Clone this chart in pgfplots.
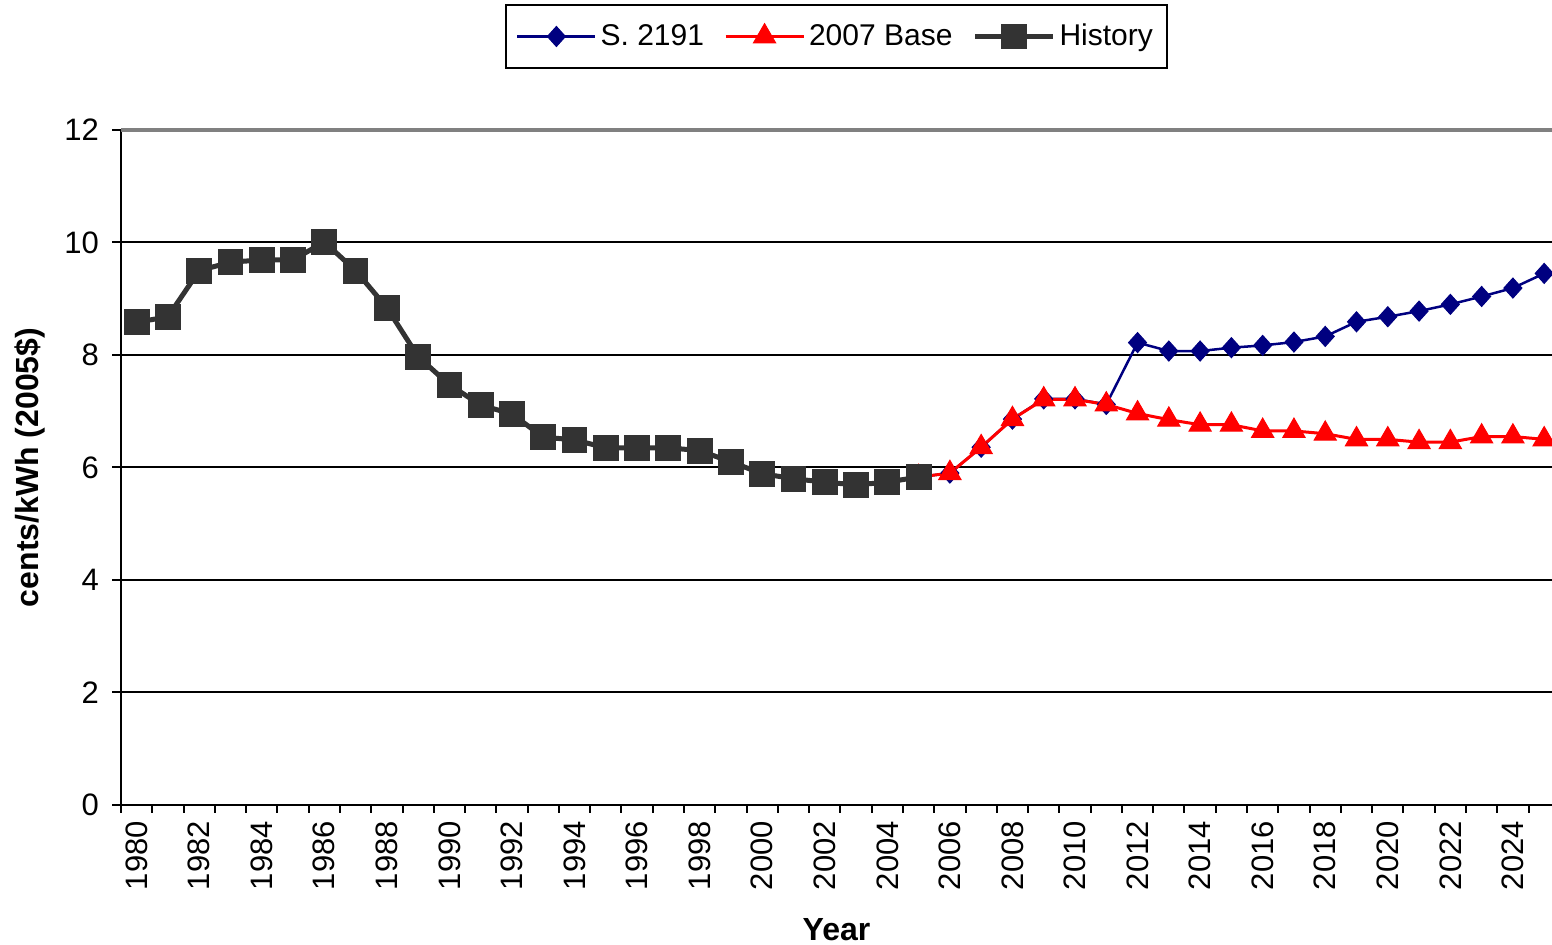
\documentclass[border=0pt]{standalone}
\usepackage{pgfplots}
\pgfplotsset{compat=1.18}
\usepackage{fontspec}
\setmainfont{Liberation Sans}
\definecolor{sblue}{RGB}{0,0,128}
\definecolor{histgray}{RGB}{51,51,51}
\begin{document}
\begin{tikzpicture}
\begin{axis}[name=ax, scale only axis, width=715.5pt, height=337.5pt,
 xmin=1979.5, xmax=2025.25, ymin=0, ymax=12, clip=false,
 axis x line=bottom, axis y line=left,
 axis line style={-, line width=1pt, black},
 /pgf/number format/1000 sep={}, /pgf/number format/assume math mode=true,
 xtick={1980,1982,...,2024},
 minor xtick={1979.5,1980.5,...,2025.5},
 major x tick style={draw=none},
 minor x tick style={line width=1pt, black},
 major y tick style={line width=1pt, black},
 minor tick length=4pt, major tick length=4.5pt,
 tick align=outside,
 ytick={0,2,...,10}, ymajorgrids,
 major grid style={black, line width=1pt},
 extra y ticks={12}, extra y tick style={major grid style={gray, line width=1.6pt}},
 tick label style={font=\fontsize{15.5}{18}\selectfont},
 xticklabel style={rotate=90, anchor=east},
 yticklabel style={xshift=-3pt},
 xlabel={Year}, ylabel={cents/kWh (2005\$)},
 label style={font=\bfseries\fontsize{16}{19}\selectfont},
 xlabel style={at={([yshift=-62.5pt]axis description cs:0.5,0)}, anchor=center},
 ylabel style={at={([xshift=-45.5pt]axis description cs:0,0.5)}, anchor=center},
 legend columns=3,
 legend style={at={(0.5,1)}, anchor=center, yshift=46.75pt, draw=black, line width=1pt,
   font=\fontsize{15}{18}\selectfont, inner xsep=5pt, inner ysep=7.5pt,
   /tikz/every even column/.append style={column sep=8pt}},
 legend image code/.code={\draw[mark repeat=2,mark phase=2] plot coordinates {(0pt,0pt)(19.5pt,0pt)(39pt,0pt)};},
]
\addplot[sblue, line width=1.25pt, mark=diamond*, mark size=5pt, mark options={solid, xscale=1.2, line width=0.5pt}] coordinates {
(2005,5.83) (2006,5.9) (2007,6.36) (2008,6.86) (2009,7.22) (2010,7.22) (2011,7.12) (2012,8.22) (2013,8.07) (2014,8.07) (2015,8.13) (2016,8.17) (2017,8.23) (2018,8.33) (2019,8.59) (2020,8.68) (2021,8.78) (2022,8.9) (2023,9.04) (2024,9.19) (2025,9.45)};
\addlegendentry{S. 2191}
\addplot[red, line width=1.5pt, mark=triangle*, mark size=6.4pt, mark options={solid, line width=0.5pt}] coordinates {
(2005,5.83) (2006,5.9) (2007,6.36) (2008,6.86) (2009,7.21) (2010,7.21) (2011,7.12) (2012,6.96) (2013,6.85) (2014,6.76) (2015,6.76) (2016,6.65) (2017,6.65) (2018,6.6) (2019,6.5) (2020,6.5) (2021,6.45) (2022,6.45) (2023,6.55) (2024,6.55) (2025,6.5)};
\addlegendentry{2007 Base}
\addplot[color=histgray, line width=2.5pt, mark=square*, mark size=6.2pt, mark options={solid, line width=0.5pt}] coordinates {
(1980,8.58) (1981,8.68) (1982,9.5) (1983,9.65) (1984,9.69) (1985,9.69) (1986,10.01) (1987,9.5) (1988,8.84) (1989,7.97) (1990,7.47) (1991,7.11) (1992,6.95) (1993,6.54) (1994,6.49) (1995,6.35) (1996,6.35) (1997,6.35) (1998,6.3) (1999,6.1) (2000,5.89) (2001,5.8) (2002,5.74) (2003,5.69) (2004,5.74) (2005,5.83)};
\addlegendentry{History}
\end{axis}
\pgfresetboundingbox
\path[use as bounding box] ([xshift=-60.5pt,yshift=-70pt]ax.south west) rectangle ([yshift=65pt]ax.north east);
\end{tikzpicture}
\end{document}
